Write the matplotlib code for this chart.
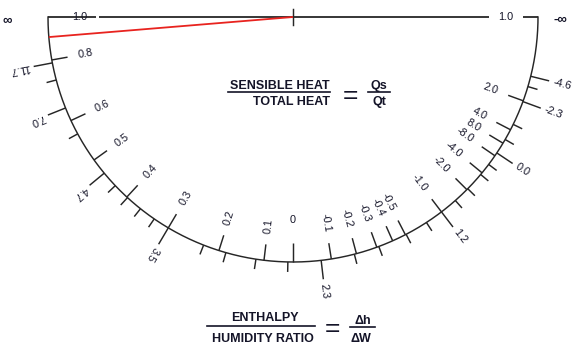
import numpy as np
import matplotlib
matplotlib.use("Agg")
import matplotlib.pyplot as plt

# inner scale: sensible heat ratio (angle in deg from the left end, sweeping down to the right end)
SHR_LABELS = ["0.8", "0.6", "0.5", "0.4", "0.3", "0.2", "0.1", "0", "-0.1", "-0.2",
              "-0.3", "-0.4", "-0.5", "-1.0", "-2.0", "-4.0", "-8.0", "8.0", "4.0", "2.0"]
SHR_ANGLES = [10.1, 25.0, 35.7, 47.3, 59.4, 72.4, 83.2, 90.0, 99.0, 105.0,
              110.0, 114.0, 117.3, 127.3, 135.2, 140.5, 145.5, 149.0, 152.6, 160.0]

# outer scale: enthalpy / humidity ratio
RATIO_LABELS = ["11.7", "7.0", "4.7", "3.5", "2.3", "1.2", "0.0", "-2.3", "-4.6"]
RATIO_ANGLES = [10.8, 21.8, 39.6, 59.4, 96.6, 127.3, 146.3, 159.8, 166.0]
RATIO_MINOR = [14.9, 28.5, 43.5, 47.5, 51.5, 55.5, 68.6, 74.1, 81.3, 88.8, 104.5,
               110.5, 117.5, 123.0, 131.5, 135.5, 140.0, 143.0, 150.0, 154.0, 163.5]

RED_ANGLE = 4.7

R = 245
INK = "#141428"
LINE = "#262626"
plt.rcParams["font.family"] = ["Liberation Sans", "DejaVu Sans"]


def pt(phi, r):
    a = np.radians(phi)
    return -r * np.cos(a), -r * np.sin(a)


fig = plt.figure(figsize=(5.78, 3.47), dpi=100)
ax = fig.add_axes([0, 0, 1, 1])
ax.set_xlim(-293, 285)
ax.set_ylim(-330, 17)
ax.axis("off")


def tick(phi, r0, r1, color=LINE, lw=1.05):
    x0, y0 = pt(phi, r0)
    x1, y1 = pt(phi, r1)
    ax.plot([x0, x1], [y0, y1], color=color, lw=lw, solid_capstyle="butt")


# ─── Arc + top line ──────────────────────────────────────────────────────────
arc = np.linspace(0, 180, 400)
ax.plot(*pt(arc, R), color=LINE, lw=1.05)

LBL_R = 213
for x0, x1 in [(-R, -LBL_R + 16), (-LBL_R + 19, LBL_R - 17), (LBL_R + 17, R)]:
    ax.plot([x0, x1], [0, 0], color=LINE, lw=1.3, solid_capstyle="butt")
ax.plot([0, 0], [-8, 8], color=LINE, lw=1.05)
ax.text(-LBL_R, 0, "1.0", ha="center", va="center", fontsize=7.8, color=INK)
ax.text(LBL_R, 0, "1.0", ha="center", va="center", fontsize=7.8, color=INK)
ax.text(-286, -4, "\u221e", ha="center", va="center", fontsize=9.5, fontweight="bold", color=INK)
ax.text(267, -3, "-\u221e", ha="center", va="center", fontsize=9.5, fontweight="bold", color=INK)

# red direction line
tick(RED_ANGLE, 0, R, color="#e8231f", lw=1.3)

# ─── Inner scale (SHR) ───────────────────────────────────────────────────────
for lab, a in zip(SHR_LABELS, SHR_ANGLES):
    if lab == "0":
        tick(a, R - 19, R)
        x, y = pt(a, 203)
        ax.text(x, y, lab, ha="center", va="center", fontsize=7.8, color=INK)
        continue
    tick(a, R - 16, R)
    x, y = pt(a, 218)
    if a < 90:
        ax.text(x, y, lab, rotation=a, rotation_mode="anchor", ha="left", va="center",
                fontsize=7.8, color=INK)
    else:
        ax.text(x, y, lab, rotation=a - 180, rotation_mode="anchor", ha="right", va="center",
                fontsize=7.8, color=INK)

# ─── Outer scale (enthalpy / humidity ratio) ─────────────────────────────────
for lab, a in zip(RATIO_LABELS, RATIO_ANGLES):
    tick(a, R, R + 19)
    x, y = pt(a, 268)
    ax.text(x, y, lab, rotation=180 + a, rotation_mode="anchor", ha="left", va="center",
            fontsize=7.8, color=INK)
for a in RATIO_MINOR:
    tick(a, R, R + 10)

# ─── Formulas ────────────────────────────────────────────────────────────────
bold = dict(fontsize=9, fontweight="bold", color=INK)
ax.text(37, -69, "SENSIBLE HEAT", ha="right", va="center", **bold)
ax.plot([-65, 37], [-75, -75], color=INK, lw=1.2)
ax.text(37, -85, "TOTAL HEAT", ha="right", va="center", **bold)
ax.text(57, -79, "=", ha="center", va="center", fontsize=19, color=INK)
ax.text(86, -69, "Qs", ha="center", va="center", **bold)
ax.plot([75, 97], [-75, -75], color=INK, lw=1.2)
ax.text(86, -85, "Qt", ha="center", va="center", **bold)

ax.text(-28, -301, "ENTHALPY", ha="center", va="center", **bold)
ax.plot([-86, 22], [-309, -309], color=INK, lw=1.2)
ax.text(-30.5, -321.5, "HUMIDITY RATIO", ha="center", va="center", **bold)
ax.text(39.5, -312, "=", ha="center", va="center", fontsize=19, color=INK)
ax.text(69.5, -304.5, "\u0394h", ha="center", va="center", **bold)
ax.plot([57, 82], [-309.5, -309.5], color=INK, lw=1.2)
ax.text(68, -322, "\u0394W", ha="center", va="center", **bold)

fig.savefig("out.png", dpi=100)
